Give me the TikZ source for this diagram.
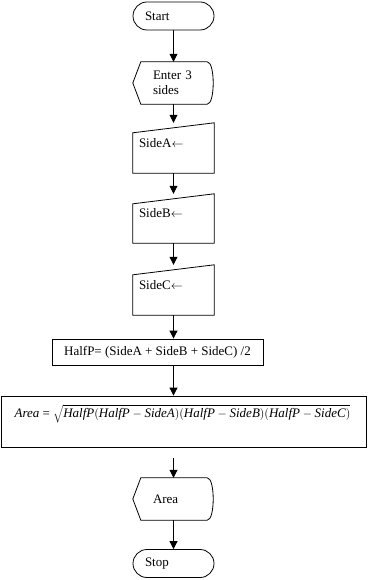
\documentclass[tikz,border=0pt]{standalone}
\usepackage{fontspec}
\setmainfont{Liberation Serif}
\usepackage{tikz}
\usetikzlibrary{arrows.meta,calc}
\newcommand\maninshape[1]{\draw[thin] ($(#1.north west)+(0,10)$) -- (#1.north east) -- (#1.south east) -- (#1.south west) -- cycle;}
\newcommand\dispshape[1]{\draw[thin] (#1.west) -- ($(#1.north west)+(8,0)$) -- ($(#1.north east)+(-8,0)$)
  .. controls (#1.north east) and (#1.south east) .. ($(#1.south east)+(-8,0)$) -- ($(#1.south west)+(8,0)$) -- cycle;}

\begin{document}
\begin{tikzpicture}[x=1bp,y=-1bp,>={Triangle[length=8bp,width=8bp]},
 font=\fontsize{13bp}{15bp}\selectfont,
 thin/.style={line width=0.8bp},
 terminal/.style={draw,thin,rounded corners=14bp,minimum height=28bp,inner ysep=0pt,
   inner xsep=12bp,text width=57bp,align=left},
 display/.style={minimum height=42bp,inner ysep=0pt,inner xsep=20bp,text width=42bp,align=left},
 manin/.style={minimum width=81bp,minimum height=50bp,inner sep=0pt},
 sidetext/.style={anchor=west,xshift=6bp,yshift=5bp,inner sep=0pt},
 process/.style={draw,thin,inner sep=0pt},
 arr/.style={->,thin}]
 \useasboundingbox (0,0) rectangle (367,580);
 \node[terminal] (start) at (173.5,16) {Start};
 \node[display] (enter) at (174,83) {Enter 3\\sides};
 \node[manin,label={[sidetext]west:SideA$\leftarrow$}] (sidea) at (173.5,148) {};
 \node[manin,minimum height=49bp,label={[sidetext]west:SideB$\leftarrow$}] (sideb) at (173.5,218.5) {};
 \node[manin,label={[sidetext]west:SideC$\leftarrow$}] (sidec) at (173.5,290) {};
 \node[process,minimum width=211bp,minimum height=26bp] (halfp) at (157.5,352) {HalfP= (SideA + SideB + SideC) /2};
 \node[process,minimum width=365bp,minimum height=51bp] (area) at (183.5,421.5) {};
 \node (formula) at (182.5,414) {\textit{Area} = $\sqrt{\textit{HalfP}(\textit{HalfP} - \textit{SideA})(\textit{HalfP} - \textit{SideB})(\textit{HalfP} - \textit{SideC})}$};
 \node[display] (areaout) at (174,499) {Area};
 \node[terminal] (stop) at (173.5,563.5) {Stop};
 \dispshape{enter}
 \dispshape{areaout}
 \maninshape{sidea}
 \maninshape{sideb}
 \maninshape{sidec}
 \foreach \a/\b in {start/enter,enter/sidea,sidea/sideb,sideb/sidec,areaout/stop}
  \draw[arr] (\a.south -| start) -- (\b.north -| start);
 \draw[arr] (sidec.south -| start) -- (halfp.north -| start);
 \draw[arr] (halfp.south -| start) -- (area.north -| start);
 \draw[arr,shorten <=11bp] (area.south -| start) -- (areaout.north -| start);
\end{tikzpicture}
\end{document}
